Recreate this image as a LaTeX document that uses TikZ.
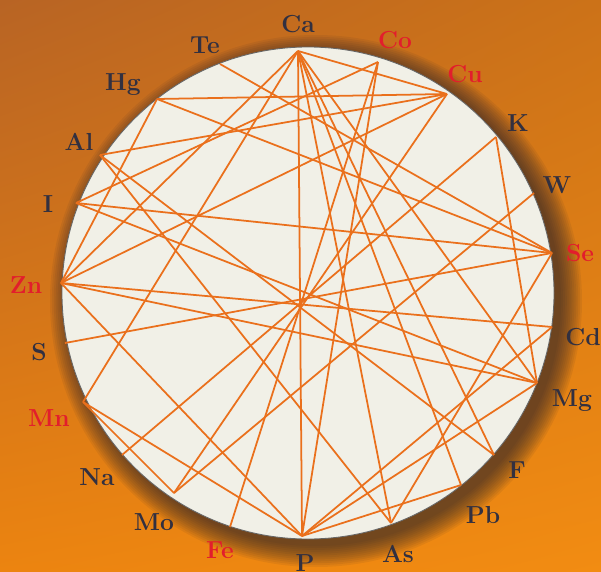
\documentclass[tikz,border=0pt]{standalone}
\usetikzlibrary{calc, shadings}

\definecolor{fondoA}{RGB}{184,100,36}
\definecolor{fondoB}{RGB}{204,114,24}
\definecolor{fondoC}{RGB}{236,132,16}
\definecolor{fondoD}{RGB}{242,140,18}
\definecolor{disco}{RGB}{241,240,231}
\definecolor{linea}{RGB}{234,112,28}
\definecolor{sombra}{RGB}{40,34,44}
\definecolor{oscuro}{RGB}{50,48,64}
\definecolor{rojo}{RGB}{226,30,44}

\begin{document}
\begin{tikzpicture}[
        x=0.025cm, y=-0.025cm,
        elemento/.style={
            font=\fontsize{17.5}{20}\selectfont\bfseries,
            text=oscuro,
            inner sep=0pt
        },
        oligo/.style={
            elemento,
            text=rojo
        },
        enlace/.style={draw=linea, line width=1.25pt}
    ]
        \useasboundingbox (0,0) rectangle (601,572);
        \shade[upper left=fondoA, upper right=fondoB, lower left=fondoC, lower right=fondoD]
            (0,0) rectangle (601,572);

        % sombra del disco
        \foreach \i in {0,...,11}{
            \fill[sombra, opacity=0.075] (316,301) circle ({266-1.9*\i});
        }
        \fill[disco] (308,293) circle (246);
        \draw[black!60, line width=0.6pt] (308,293) circle (246);

        % puntos sobre el borde
        \coordinate (Ca) at (298,51);
        \coordinate (Co) at (378,62);
        \coordinate (Cu) at (447,94);
        \coordinate (K) at (496,137);
        \coordinate (W) at (534,193);
        \coordinate (Se) at (552,253);
        \coordinate (Cd) at (552,327);
        \coordinate (Mg) at (537,383);
        \coordinate (F) at (494,455);
        \coordinate (Pb) at (461,485);
        \coordinate (As) at (391,523);
        \coordinate (P) at (302,536);
        \coordinate (Fe) at (230,527);
        \coordinate (Mo) at (174,493);
        \coordinate (Na) at (122,455);
        \coordinate (Mn) at (83,402);
        \coordinate (S) at (65,343);
        \coordinate (Zn) at (61,283);
        \coordinate (I) at (76,203);
        \coordinate (Al) at (100,155);
        \coordinate (Hg) at (157,99);
        \coordinate (Te) at (220,64);

        % nombres
        \node[elemento] (nCa) at (298,24) {Ca};
        \node[oligo] (nCo) at (395,40) {Co};
        \node[oligo] (nCu) at (465,74) {Cu};
        \node[elemento] (nK) at (518,123) {K};
        \node[elemento] (nW) at (557,185) {W};
        \node[oligo] (nSe) at (580,253) {Se};
        \node[elemento] (nCd) at (583,337) {Cd};
        \node[elemento] (nMg) at (572,401) {Mg};
        \node[elemento] (nF) at (517,470) {F};
        \node[elemento] (nPb) at (483,515) {Pb};
        \node[elemento] (nAs) at (398,554) {As};
        \node[elemento] (nP) at (305,563) {P};
        \node[oligo] (nFe) at (220,550) {Fe};
        \node[elemento] (nMo) at (154,522) {Mo};
        \node[elemento] (nNa) at (97,477) {Na};
        \node[oligo] (nMn) at (49,418) {Mn};
        \node[elemento] (nS) at (39,352) {S};
        \node[oligo] (nZn) at (26,285) {Zn};
        \node[elemento] (nI) at (48,204) {I};
        \node[elemento] (nAl) at (79,142) {Al};
        \node[elemento] (nHg) at (123,85) {Hg};
        \node[elemento] (nTe) at (205,45) {Te};

        % antagonismos
        \draw[enlace] (Ca) -- (P);
        \draw[enlace] (Ca) -- (Cu);
        \draw[enlace] (Ca) -- (Zn);
        \draw[enlace] (Ca) -- (Mn);
        \draw[enlace] (Ca) -- (As);
        \draw[enlace] (Ca) -- (Pb);
        \draw[enlace] (Ca) -- (F);
        \draw[enlace] (Ca) -- (Mg);
        \draw[enlace] (Co) -- (Fe);
        \draw[enlace] (Co) -- (I);
        \draw[enlace] (Co) -- (P);
        \draw[enlace] (Cu) -- (Hg);
        \draw[enlace] (Cu) -- (Mo);
        \draw[enlace] (Cu) -- (Zn);
        \draw[enlace] (Cu) -- (Al);
        \draw[enlace] (K) -- (Na);
        \draw[enlace] (K) -- (Mg);
        \draw[enlace] (W) -- (Mo);
        \draw[enlace] (Se) -- (Te);
        \draw[enlace] (Se) -- (Hg);
        \draw[enlace] (Se) -- (I);
        \draw[enlace] (Se) -- (S);
        \draw[enlace] (Se) -- (As);
        \draw[enlace] (Cd) -- (Zn);
        \draw[enlace] (Cd) -- (P);
        \draw[enlace] (Mg) -- (Zn);
        \draw[enlace] (Mg) -- (I);
        \draw[enlace] (Mg) -- (P);
        \draw[enlace] (F) -- (Al);
        \draw[enlace] (Pb) -- (P);
        \draw[enlace] (As) -- (Al);
        \draw[enlace] (Mn) -- (Mo);
        \draw[enlace] (Mn) -- (P);
        \draw[enlace] (Zn) -- (P);
        \draw[enlace] (Zn) -- (Hg);
    \end{tikzpicture}
\end{document}
